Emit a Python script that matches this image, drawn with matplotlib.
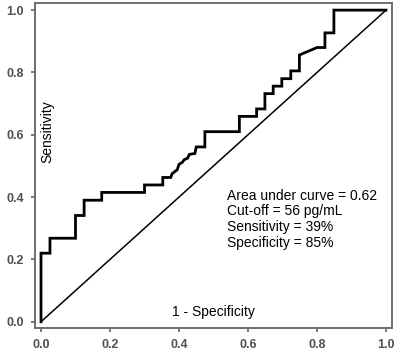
import matplotlib
matplotlib.use("Agg")
import matplotlib.pyplot as plt

plt.rcParams['font.family'] = ['Liberation Sans', 'DejaVu Sans']

# ROC curve vertices (1 - specificity, sensitivity)
fpr = [0.0, 0.0, 0.026, 0.026, 0.10, 0.10, 0.125, 0.125, 0.176, 0.176,
       0.30, 0.30, 0.353, 0.353, 0.376, 0.38, 0.395, 0.40, 0.41, 0.415,
       0.425, 0.43, 0.446, 0.45, 0.475, 0.475, 0.575, 0.575, 0.625, 0.625,
       0.649, 0.649, 0.673, 0.673, 0.698, 0.698, 0.724, 0.724, 0.749, 0.749,
       0.80, 0.823, 0.823, 0.849, 0.849, 1.0]
tpr = [0.0, 0.22, 0.22, 0.268, 0.268, 0.341, 0.341, 0.39, 0.39, 0.415,
       0.415, 0.439, 0.439, 0.463, 0.463, 0.475, 0.488, 0.505, 0.512, 0.52,
       0.525, 0.537, 0.54, 0.561, 0.561, 0.61, 0.61, 0.659, 0.659, 0.683,
       0.683, 0.732, 0.732, 0.756, 0.756, 0.78, 0.78, 0.805, 0.805, 0.856,
       0.88, 0.88, 0.927, 0.927, 1.0, 1.0]

ticks = [0.0, 0.2, 0.4, 0.6, 0.8, 1.0]
tick_labels = ['0.0', '0.2', '0.4', '0.6', '0.8', '1.0']
stats = ['Area under curve = 0.62',
         'Cut-off = 56 pg/mL',
         'Sensitivity = 39%',
         'Specificity = 85%']

fig = plt.figure(figsize=(4.0, 3.56), dpi=100)
ax = fig.add_axes([0.0875, 0.0787, 0.8925, 0.913])

ax.plot(fpr, tpr, color='black', lw=2.0, solid_joinstyle='miter')
ax.plot([0, 1], [0, 1], color='black', lw=1.1)

ax.set_xlim(-0.0174, 1.0174)
ax.set_ylim(-0.020, 1.023)

for s in ax.spines.values():
    s.set_color('#6e6e6e')
    s.set_linewidth(1.4)

ax.set_xticks(ticks)
ax.set_xticklabels(tick_labels)
ax.set_yticks(ticks)
ax.set_yticklabels(tick_labels)
ax.tick_params(direction='out', length=3, width=1.1, color='#555555',
               labelsize=9, labelcolor='#505050', pad=5)
for lab in ax.get_xticklabels() + ax.get_yticklabels():
    lab.set_fontweight('bold')

ax.text(0.018, 0.61, 'Sensitivity', rotation=90, ha='center', va='center',
        fontsize=10)
ax.text(0.5, 0.032, '1 - Specificity', ha='center', va='center', fontsize=10)

ys = [0.405, 0.354, 0.303, 0.254]
for y, line in zip(ys, stats):
    ax.text(0.538, y, line, ha='left', va='center', fontsize=10)

fig.savefig('out.png', dpi=100)
